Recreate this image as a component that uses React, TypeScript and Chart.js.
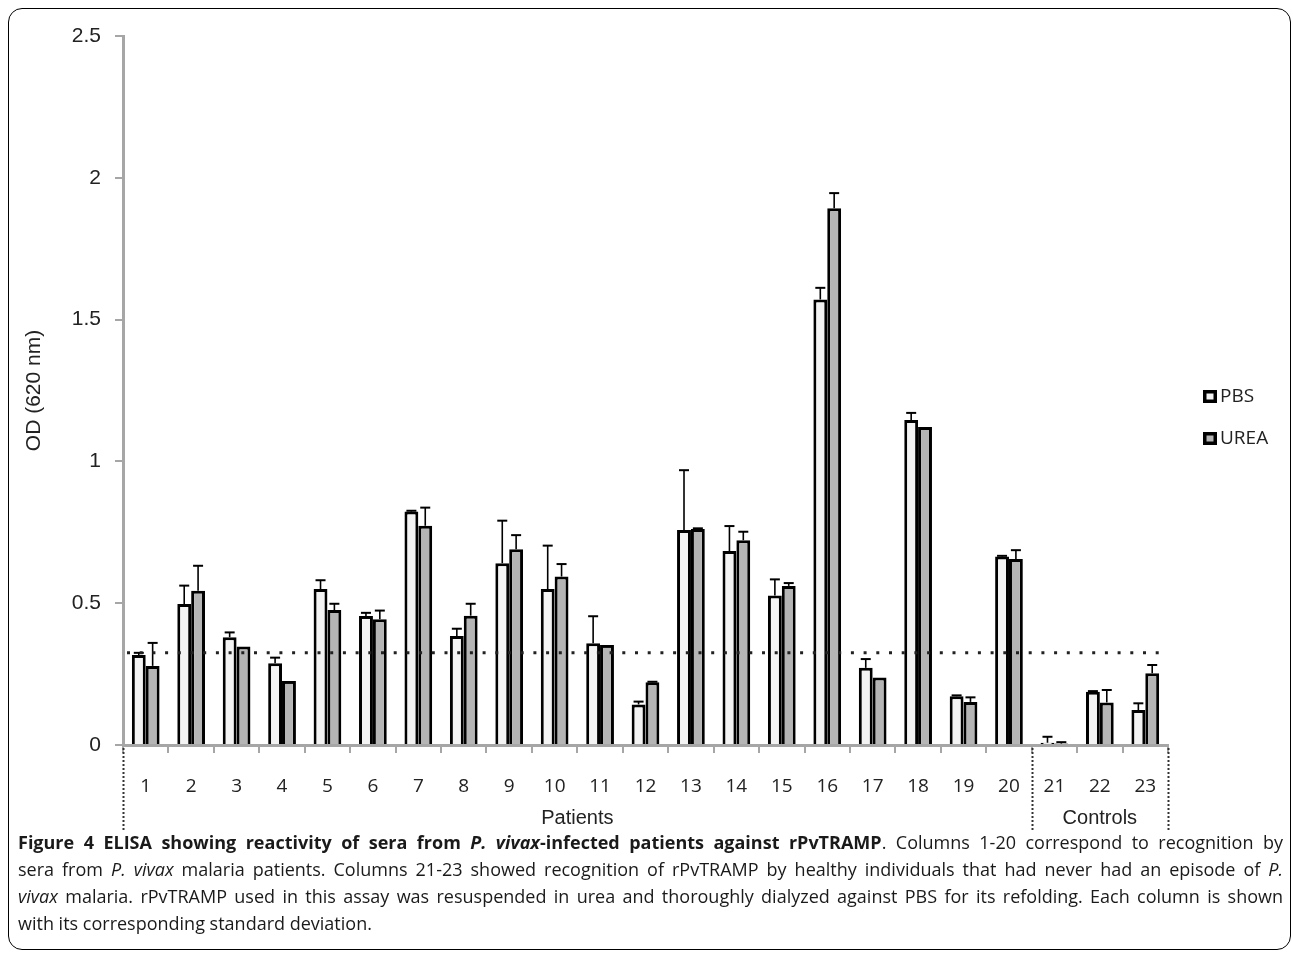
import React, { useEffect, useRef } from "react";
import { Chart, registerables } from "chart.js";

Chart.register(...registerables);

const categories = ["1", "2", "3", "4", "5", "6", "7", "8", "9", "10", "11", "12", "13", "14", "15", "16", "17", "18", "19", "20", "21", "22", "23"];
const seriesLabels = ["PBS", "UREA"];
const pbsValues = [0.317, 0.497, 0.38, 0.288, 0.55, 0.455, 0.823, 0.384, 0.641, 0.55, 0.359, 0.143, 0.758, 0.684, 0.527, 1.571, 0.272, 1.146, 0.172, 0.665, 0.008, 0.188, 0.123];
const pbsErrors = [0.008, 0.065, 0.017, 0.02, 0.031, 0.011, 0.003, 0.026, 0.15, 0.153, 0.095, 0.01, 0.211, 0.088, 0.057, 0.041, 0.031, 0.025, 0.003, 0.002, 0.021, 0.002, 0.024];
const ureaValues = [0.279, 0.544, 0.347, 0.226, 0.476, 0.443, 0.773, 0.456, 0.69, 0.594, 0.353, 0.221, 0.762, 0.722, 0.561, 1.893, 0.238, 1.121, 0.152, 0.656, 0.005, 0.15, 0.253];
const ureaErrors = [0.081, 0.088, 0, 0, 0.022, 0.031, 0.064, 0.042, 0.05, 0.044, 0, 0.002, 0.002, 0.03, 0.01, 0.053, 0, 0, 0.016, 0.031, 0.005, 0.044, 0.029];
const yTickValues = [0, 0.5, 1, 1.5, 2, 2.5];
const yTickLabels = ["0", "0.5", "1", "1.5", "2", "2.5"];
const thresholdValue = 0.325;
const groupLabels = ["Patients", "Controls"];
const groupStart = [0, 20];
const groupEnd = [19, 22];
const seriesColors = ["#f3f3f3", "#b5b5b5"];

const AXIS_GRAY = "#a6a6a6";
const TEXT = "#222";
const ARIAL = "'Liberation Sans', Arial, sans-serif";
const OPEN = "'Open Sans', sans-serif";

const overlayPlugin = {
  id: "overlay",
  afterDatasetsDraw(chart: any) {
    const ctx = chart.ctx;
    const xs = chart.scales.x;
    const ys = chart.scales.y;
    const errs = [pbsErrors, ureaErrors];
    chart.data.datasets.forEach((ds: any, di: number) => {
      const meta = chart.getDatasetMeta(di);
      meta.data.forEach((bar: any, i: number) => {
        const v = ds.data[i];
        const e = errs[di][i];
        if (!e) return;
        const top = ys.getPixelForValue(v + e);
        const base = ys.getPixelForValue(v);
        ctx.save();
        ctx.strokeStyle = "#000";
        ctx.lineWidth = 1.6;
        ctx.beginPath();
        ctx.moveTo(bar.x, base);
        ctx.lineTo(bar.x, top);
        ctx.stroke();
        ctx.lineWidth = 2;
        ctx.beginPath();
        ctx.moveTo(bar.x - 5, top);
        ctx.lineTo(bar.x + 5, top);
        ctx.stroke();
        ctx.restore();
      });
    });
    const ty = ys.getPixelForValue(thresholdValue);
    ctx.save();
    ctx.strokeStyle = "#222";
    ctx.lineWidth = 3;
    ctx.setLineDash([3, 9.7]);
    ctx.beginPath();
    ctx.moveTo(xs.left + 4, ty);
    ctx.lineTo(xs.right - 6, ty);
    ctx.stroke();
    ctx.restore();
  },
  afterDraw(chart: any) {
    const ctx = chart.ctx;
    const xs = chart.scales.x;
    const ys = chart.scales.y;
    const step = xs.getPixelForValue(1) - xs.getPixelForValue(0);
    const bounds: number[] = [];
    groupStart.forEach((s, gi) => {
      const left = xs.getPixelForValue(s) - step / 2;
      const right = xs.getPixelForValue(groupEnd[gi]) + step / 2;
      if (!bounds.some((b) => Math.abs(b - left) < 1)) bounds.push(left);
      if (!bounds.some((b) => Math.abs(b - right) < 1)) bounds.push(right);
      ctx.save();
      ctx.fillStyle = TEXT;
      ctx.font = `20px ${ARIAL}`;
      ctx.textAlign = "center";
      ctx.textBaseline = "middle";
      ctx.fillText(groupLabels[gi], (left + right) / 2, ys.bottom + 73);
      ctx.restore();
    });
    ctx.save();
    ctx.strokeStyle = "#333";
    ctx.lineWidth = 2;
    ctx.setLineDash([2, 2]);
    bounds.forEach((bx) => {
      ctx.beginPath();
      ctx.moveTo(Math.round(bx) + 0.5, ys.bottom + 3);
      ctx.lineTo(Math.round(bx) + 0.5, ys.bottom + 86);
      ctx.stroke();
    });
    ctx.restore();

    // legend
    const lx = 1203;
    const lys = [396, 438];
    seriesLabels.forEach((lab, i) => {
      const cy = lys[i];
      ctx.save();
      ctx.fillStyle = seriesColors[i];
      ctx.fillRect(lx, cy - 6, 14, 13);
      ctx.strokeStyle = "#000";
      ctx.lineWidth = 3.5;
      ctx.strokeRect(lx + 1.75, cy - 6 + 1.75, 10.5, 9.5);
      ctx.fillStyle = TEXT;
      ctx.font = `19px ${OPEN}`;
      ctx.textAlign = "left";
      ctx.textBaseline = "middle";
      ctx.fillText(lab, lx + 17, cy + 1);
      ctx.restore();
    });
  },
};

export default function App() {
  const canvasRef = useRef<HTMLCanvasElement | null>(null);

  useEffect(() => {
    document.body.style.margin = "0";
    const canvas = canvasRef.current;
    if (!canvas) return;
    const chart = new Chart(canvas, {
      type: "bar",
      data: {
        labels: categories,
        datasets: [
          {
            label: seriesLabels[0],
            data: pbsValues,
            backgroundColor: seriesColors[0],
            borderColor: "#000",
            borderWidth: 3,
            barPercentage: 1,
            categoryPercentage: 0.61,
          },
          {
            label: seriesLabels[1],
            data: ureaValues,
            backgroundColor: seriesColors[1],
            borderColor: "#000",
            borderWidth: 3,
            barPercentage: 1,
            categoryPercentage: 0.61,
          },
        ],
      },
      options: {
        animation: false,
        responsive: false,
        maintainAspectRatio: false,
        devicePixelRatio: 1,
        events: [],
        layout: { padding: { left: 0, top: 36, right: 125, bottom: 0 } },
        plugins: {
          legend: { display: false },
          tooltip: { enabled: false },
        },
        scales: {
          x: {
            afterFit(scale: any) {
              scale.height = 95;
            },
            ticks: {
              font: { family: OPEN, size: 19 },
              color: TEXT,
              padding: 22,
              maxRotation: 0,
              autoSkip: false,
            },
            grid: {
              drawOnChartArea: false,
              drawTicks: true,
              tickLength: 8,
              color: AXIS_GRAY,
              lineWidth: 2,
              offset: true,
            },
            border: { display: true, color: AXIS_GRAY, width: 3 },
          },
          y: {
            min: 0,
            max: 2.5,
            afterFit(scale: any) {
              scale.width = 123;
            },
            afterBuildTicks(scale: any) {
              scale.ticks = yTickValues.map((v) => ({ value: v }));
            },
            ticks: {
              font: { family: ARIAL, size: 21 },
              color: TEXT,
              padding: 14,
              callback: (v: any) => {
                const idx = yTickValues.indexOf(Number(v));
                return idx >= 0 ? yTickLabels[idx] : "";
              },
            },
            grid: {
              drawOnChartArea: false,
              drawTicks: true,
              tickLength: 8,
              color: AXIS_GRAY,
              lineWidth: 2,
            },
            border: { display: true, color: AXIS_GRAY, width: 3 },
            title: {
              display: true,
              text: "OD (620 nm)",
              font: { family: ARIAL, size: 21 },
              color: TEXT,
              padding: { top: 22, bottom: 0 },
            },
          },
        },
      },
      plugins: [overlayPlugin],
    } as any);
    return () => chart.destroy();
  }, []);

  const lineStyle: React.CSSProperties = {
    textAlign: "justify",
    textAlignLast: "justify" as any,
    whiteSpace: "nowrap",
  };

  return (
    <div style={{ position: "relative", width: 1293, height: 954, overflow: "hidden" }}>
      <div
        style={{
          position: "absolute",
          left: 8,
          top: 8,
          width: 1283,
          height: 942,
          boxSizing: "border-box",
          border: "1.5px solid #000",
          borderRadius: 14,
        }}
      />
      <canvas
        ref={canvasRef}
        width={1293}
        height={840}
        style={{ position: "absolute", left: 0, top: 0, width: 1293, height: 840 }}
      />
      <div
        style={{
          position: "absolute",
          left: 18,
          top: 829,
          width: 1265,
          fontFamily: OPEN,
          fontSize: 18,
          lineHeight: "27px",
          color: "#1a1a1a",
        }}
      >
        <div style={lineStyle}>
          <b>
            Figure 4 ELISA showing reactivity of sera from <i>P. vivax</i>-infected patients against rPvTRAMP
          </b>
          . Columns 1-20 correspond to recognition by
        </div>
        <div style={lineStyle}>
          sera from <i>P. vivax</i> malaria patients. Columns 21-23 showed recognition of rPvTRAMP by healthy individuals that had never had an episode of <i>P.</i>
        </div>
        <div style={lineStyle}>
          <i>vivax</i> malaria. rPvTRAMP used in this assay was resuspended in urea and thoroughly dialyzed against PBS for its refolding. Each column is shown
        </div>
        <div style={{ whiteSpace: "nowrap" }}>with its corresponding standard deviation.</div>
      </div>
    </div>
  );
}
